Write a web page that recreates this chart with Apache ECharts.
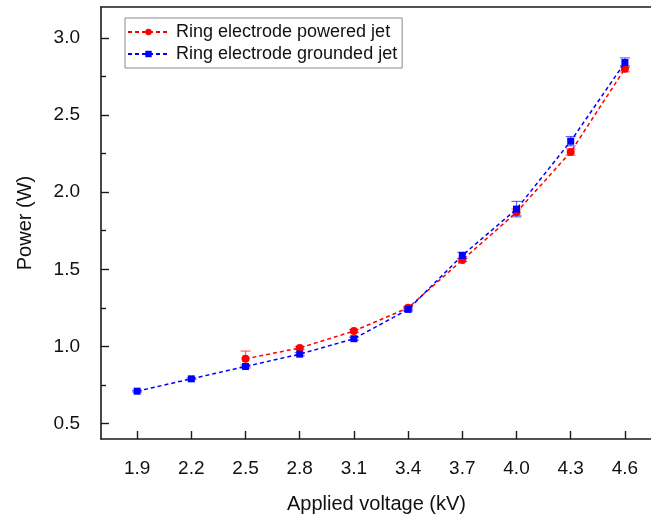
<!DOCTYPE html>
<html>
<head>
<meta charset="utf-8">
<script src="https://cdn.jsdelivr.net/npm/echarts@6/dist/echarts.min.js"></script>
<style>
  html, body { margin: 0; padding: 0; background: #fff; }
  #chart { width: 651px; height: 515px; }
</style>
</head>
<body>
<div id="chart"></div>
<script>
// Applied voltage (kV) at each measurement
const voltageTicks = [1.9, 2.2, 2.5, 2.8, 3.1, 3.4, 3.7, 4.0, 4.3, 4.6];
const powerTicks = [0.5, 1.0, 1.5, 2.0, 2.5, 3.0];
const powerMinorTicks = [0.75, 1.25, 1.75, 2.25, 2.75];

// Ring electrode powered jet
const poweredVoltage = [2.5, 2.8, 3.1, 3.4, 3.7, 4.0, 4.3, 4.6];
const poweredPower = [0.92, 0.99, 1.10, 1.25, 1.56, 1.87, 2.26, 2.80];
const poweredError = [0.05, 0.01, 0.01, 0.01, 0.01, 0.02, 0.02, 0.02];

// Ring electrode grounded jet
const groundedVoltage = [1.9, 2.2, 2.5, 2.8, 3.1, 3.4, 3.7, 4.0, 4.3, 4.6];
const groundedPower = [0.71, 0.79, 0.87, 0.95, 1.05, 1.24, 1.59, 1.89, 2.33, 2.84];
const groundedError = [0.005, 0.005, 0.01, 0.01, 0.01, 0.01, 0.02, 0.05, 0.03, 0.03];

const RED = '#ff0000';
const BLUE = '#0000ff';
const FONT = '"Liberation Sans", Arial, sans-serif';

function pairs(xs, ys) { return xs.map((x, i) => [x, ys[i]]); }
function errRows(xs, ys, es) { return xs.map((x, i) => [x, ys[i] - es[i], ys[i] + es[i]]); }

function errorBars(color) {
  return function (params, api) {
    const lo = api.coord([api.value(0), api.value(1)]);
    const hi = api.coord([api.value(0), api.value(2)]);
    const w = 5;
    const style = { stroke: color, lineWidth: 1.2, opacity: 0.6 };
    return {
      type: 'group',
      children: [
        { type: 'line', shape: { x1: lo[0], y1: lo[1], x2: hi[0], y2: hi[1] }, style },
        { type: 'line', shape: { x1: lo[0] - w, y1: lo[1], x2: lo[0] + w, y2: lo[1] }, style },
        { type: 'line', shape: { x1: hi[0] - w, y1: hi[1], x2: hi[0] + w, y2: hi[1] }, style }
      ]
    };
  };
}

const chart = echarts.init(document.getElementById('chart'));
const axisLine = { show: true, lineStyle: { color: '#1a1a1a', width: 1.6 } };

chart.setOption({
  animation: false,
  backgroundColor: '#fff',
  grid: { left: 101, top: 7, right: -1, bottom: 76, outerBoundsMode: 'none', containLabel: false },
  legend: {
    orient: 'vertical',
    left: 125,
    top: 18,
    padding: [5, 5, 5, 2],
    itemGap: 4,
    itemWidth: 41,
    itemHeight: 8,
    borderColor: '#8a8a8a',
    borderWidth: 1,
    textStyle: { fontFamily: FONT, fontSize: 18, color: '#111', padding: [0, 0, 0, 2] },
    data: ['Ring electrode powered jet', 'Ring electrode grounded jet']
  },
  xAxis: [{
    type: 'value',
    min: 1.7,
    max: 4.75,
    axisLine: axisLine,
    axisTick: { show: true, inside: true, length: 8, customValues: voltageTicks,
                lineStyle: { color: '#1a1a1a', width: 1.4 } },
    axisLabel: { customValues: voltageTicks, margin: 20, fontFamily: FONT, fontSize: 19, color: '#111',
                 formatter: v => v.toFixed(1) },
    splitLine: { show: false },
    name: 'Applied voltage (kV)',
    nameLocation: 'middle',
    nameGap: 55,
    nameTextStyle: { fontFamily: FONT, fontSize: 20, color: '#111' }
  }, {
    type: 'value',
    position: 'top',
    min: 1.7,
    max: 4.75,
    axisLine: axisLine,
    axisTick: { show: false },
    axisLabel: { show: false },
    splitLine: { show: false }
  }],
  yAxis: [{
    type: 'value',
    min: 0.4,
    max: 3.2,
    axisLine: axisLine,
    axisTick: { show: true, inside: true, length: 8, customValues: powerTicks,
                lineStyle: { color: '#1a1a1a', width: 1.4 } },
    axisLabel: { customValues: powerTicks, margin: 21, fontFamily: FONT, fontSize: 19, color: '#111',
                 formatter: v => v.toFixed(1) },
    splitLine: { show: false },
    name: 'Power (W)',
    nameLocation: 'middle',
    nameGap: 66,
    nameTextStyle: { fontFamily: FONT, fontSize: 20, color: '#111' }
  }, {
    type: 'value',
    position: 'left',
    min: 0.4,
    max: 3.2,
    axisLine: { show: false },
    axisTick: { show: true, inside: true, length: 5, customValues: powerMinorTicks,
                lineStyle: { color: '#1a1a1a', width: 1.4 } },
    axisLabel: { show: false },
    splitLine: { show: false }
  }],
  series: [
    {
      type: 'custom',
      renderItem: errorBars(RED),
      data: errRows(poweredVoltage, poweredPower, poweredError),
      encode: { x: 0, y: [1, 2] },
      z: 1,
      silent: true
    },
    {
      type: 'custom',
      renderItem: errorBars(BLUE),
      data: errRows(groundedVoltage, groundedPower, groundedError),
      encode: { x: 0, y: [1, 2] },
      z: 1,
      silent: true
    },
    {
      name: 'Ring electrode powered jet',
      type: 'line',
      data: pairs(poweredVoltage, poweredPower),
      symbol: 'circle',
      symbolSize: 8,
      itemStyle: { color: RED },
      lineStyle: { color: RED, width: 1.5, type: [4, 3] },
      z: 3
    },
    {
      name: 'Ring electrode grounded jet',
      type: 'line',
      data: pairs(groundedVoltage, groundedPower),
      symbol: 'rect',
      symbolSize: 7,
      itemStyle: { color: BLUE },
      lineStyle: { color: BLUE, width: 1.5, type: [4, 3] },
      z: 4
    }
  ]
});
</script>
</body>
</html>
